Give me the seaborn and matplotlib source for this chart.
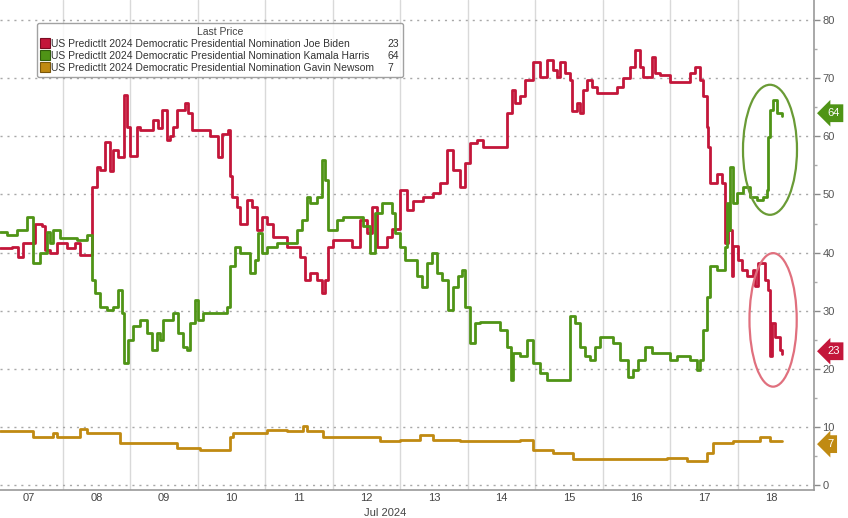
import matplotlib
matplotlib.use("Agg")
import numpy as np
import pandas as pd
import seaborn as sns
import matplotlib.pyplot as plt
import matplotlib.transforms as mtransforms
from matplotlib.patches import Ellipse
from matplotlib.lines import Line2D
from matplotlib.ticker import MultipleLocator

# ---------------- data (time in days of July 2024) ----------------
biden_t = [7.067, 7.245, 7.334, 7.408, 7.586, 7.689, 7.734, 7.808, 7.911, 8.060, 8.178, 8.252,
           8.430, 8.504, 8.549, 8.623, 8.697, 8.741, 8.815, 8.904, 8.948, 8.993, 9.097, 9.141,
           9.334, 9.408, 9.467, 9.541, 9.586, 9.630, 9.689, 9.808, 9.852, 9.911, 10.178, 10.297,
           10.356, 10.445, 10.474, 10.504, 10.578, 10.623, 10.726, 10.800, 10.874, 10.948, 11.023,
           11.111, 11.319, 11.511, 11.586, 11.659, 11.763, 11.837, 11.882, 11.926, 12.000, 12.282,
           12.400, 12.504, 12.578, 12.652, 12.800, 12.874, 12.993, 13.097, 13.186, 13.334, 13.482,
           13.586, 13.689, 13.778, 13.882, 13.956, 14.030, 14.134, 14.223, 14.474, 14.578, 14.652,
           14.697, 14.771, 14.845, 14.963, 15.067, 15.171, 15.260, 15.319, 15.363, 15.437, 15.511,
           15.541, 15.615, 15.660, 15.704, 15.763, 15.837, 15.911, 16.208, 16.297, 16.400, 16.474,
           16.548, 16.593, 16.726, 16.771, 16.845, 16.993, 17.289, 17.363, 17.437, 17.482, 17.541,
           17.556, 17.585, 17.689, 17.763, 17.808, 17.852, 17.911, 17.926, 18.000, 18.059, 18.133,
           18.222, 18.252, 18.296, 18.400, 18.445, 18.474, 18.504, 18.548, 18.622, 18.652]
biden_v = [40.7, 41.0, 39.3, 41.6, 45.0, 44.5, 40.4, 39.9, 41.6, 40.7, 41.6, 39.5,
           51.3, 54.8, 54.2, 59.1, 54.0, 57.7, 56.5, 67.1, 61.7, 56.6, 61.7, 61.1,
           62.8, 61.4, 64.5, 59.4, 60.0, 61.7, 64.5, 65.7, 64.0, 61.1, 60.0, 56.5,
           60.5, 61.1, 53.1, 49.6, 47.9, 45.0, 49.1, 47.9, 43.9, 46.2, 45.0,
           42.7, 41.0, 39.3, 35.3, 36.4, 35.3, 33.0, 35.3, 41.0, 42.2, 41.0,
           45.6, 43.3, 47.9, 41.0, 42.7, 44.0, 50.8, 47.3, 48.9, 49.6, 50.2,
           51.9, 57.7, 54.2, 51.3, 55.4, 58.8, 59.4, 58.2, 58.2, 64.0, 68.0,
           65.7, 66.9, 69.7, 72.9, 70.3, 73.1, 71.4, 70.3, 72.9, 70.9, 69.7,
           64.3, 65.7, 64.0, 68.0, 69.7, 68.6, 67.4, 68.6, 70.0, 72.0, 74.9,
           72.0, 70.3, 73.7, 70.9, 70.6, 69.4, 70.9, 72.0, 69.7, 66.9, 61.7,
           58.2, 51.9, 53.6, 51.9, 41.6, 43.9, 35.9, 41.1, 38.7, 37.0, 35.9,
           37.0, 34.2, 38.2, 35.3, 33.6, 22.1, 27.8, 25.5, 23.3, 22.5]

harris_t = [7.067, 7.171, 7.319, 7.467, 7.556, 7.660, 7.763, 7.808, 7.852, 7.956, 8.207, 8.356,
            8.430, 8.474, 8.549, 8.652, 8.741, 8.815, 8.874, 8.904, 8.963, 9.037, 9.141, 9.245,
            9.319, 9.393, 9.437, 9.482, 9.630, 9.704, 9.778, 9.837, 9.882, 9.956, 10.000, 10.074,
            10.430, 10.474, 10.548, 10.623, 10.771, 10.845, 10.889, 10.948, 11.023, 11.171, 11.467,
            11.541, 11.615, 11.659, 11.763, 11.837, 11.882, 11.926, 12.059, 12.148, 12.445, 12.548,
            12.623, 12.726, 12.874, 12.919, 12.993, 13.067, 13.245, 13.319, 13.393, 13.467, 13.541,
            13.615, 13.704, 13.778, 13.852, 13.911, 13.956, 14.030, 14.104, 14.178, 14.474, 14.578,
            14.637, 14.667, 14.771, 14.874, 14.963, 15.067, 15.171, 15.511, 15.585, 15.660, 15.734,
            15.808, 15.882, 15.956, 16.148, 16.252, 16.370, 16.445, 16.519, 16.622, 16.726, 16.993,
            17.097, 17.289, 17.393, 17.437, 17.482, 17.541, 17.585, 17.689, 17.808, 17.837, 17.852,
            17.882, 17.926, 17.985, 18.074, 18.178, 18.281, 18.370, 18.430, 18.445, 18.474, 18.519,
            18.578, 18.652]
harris_v = [43.6, 43.0, 43.9, 46.2, 38.2, 39.9, 43.6, 41.6, 43.9, 42.5, 42.2, 43.0,
            35.3, 33.0, 30.7, 30.1, 30.7, 33.6, 29.6, 20.9, 25.0, 27.3, 28.4, 26.1,
            23.2, 26.1, 25.0, 28.4, 29.6, 26.1, 23.8, 23.2, 27.8, 31.8, 28.4, 29.6,
            30.7, 37.6, 41.0, 39.9, 36.4, 38.7, 43.3, 39.9, 41.0, 41.6, 43.9,
            45.6, 49.6, 48.5, 49.6, 55.9, 52.5, 43.9, 45.6, 46.2, 44.5, 39.9,
            46.8, 48.5, 46.8, 43.3, 41.0, 38.7, 35.9, 34.1, 38.2, 39.9, 36.4,
            35.3, 30.1, 34.1, 35.9, 37.0, 30.7, 24.4, 27.8, 28.1, 26.7, 23.8,
            18.1, 22.7, 22.1, 25.0, 20.9, 19.2, 18.1, 29.0, 27.8, 23.8, 22.1,
            21.5, 23.8, 25.5, 24.4, 21.5, 18.6, 19.8, 21.5, 23.8, 22.7, 21.5,
            22.1, 21.5, 19.8, 21.5, 26.7, 32.4, 37.6, 37.0, 41.0, 48.5, 43.9,
            54.8, 48.5, 50.2, 51.3, 49.6, 49.1, 49.6, 50.8, 59.9, 64.5, 66.3,
            64.0, 63.6]

newsom_t = [7.067, 7.556, 7.852, 7.911, 8.252, 8.356, 8.845, 9.689, 10.030, 10.474, 10.519,
            11.022, 11.319, 11.556, 11.615, 11.852, 12.697, 12.993, 13.289, 13.482, 13.882,
            14.771, 14.963, 15.260, 15.556, 16.948, 17.245, 17.541, 17.630, 17.926, 18.326,
            18.474, 18.652]
newsom_v = [9.2, 8.3, 8.9, 8.3, 9.6, 8.9, 7.2, 6.3, 6.0, 8.3, 8.9,
            9.5, 9.2, 10.2, 9.2, 8.3, 7.5, 7.7, 8.6, 7.7, 7.5,
            7.7, 6.0, 5.5, 4.4, 4.6, 4.1, 5.5, 7.2, 7.5, 8.2,
            7.5, 7.5]

series_names = ["US PredictIt 2024 Democratic Presidential Nomination Joe Biden",
                "US PredictIt 2024 Democratic Presidential Nomination Kamala Harris",
                "US PredictIt 2024 Democratic Presidential Nomination Gavin Newsom"]
last_prices = [23, 64, 7]
day_numbers = [7, 8, 9, 10, 11, 12, 13, 14, 15, 16, 17, 18]
day_labels = ["07", "08", "09", "10", "11", "12", "13", "14", "15", "16", "17", "18"]
y_ticks = [0, 10, 20, 30, 40, 50, 60, 70, 80]

# ---------------- style ----------------
sns.set_theme(style="white")
plt.rcParams["font.family"] = ["Liberation Sans", "DejaVu Sans"]

colors = ["#c3163a", "#4f9416", "#c08a12"]
edge_colors = ["#7a0c22", "#2f5c0c", "#7a560a"]

fig = plt.figure(figsize=(8.48, 5.18), dpi=100)
ax = fig.add_axes([0, 28 / 518, 814 / 848, 490 / 518])

for t, v, c in [(biden_t, biden_v, colors[0]),
                (harris_t, harris_v, colors[1]),
                (newsom_t, newsom_v, colors[2])]:
    sns.lineplot(x=t, y=v, ax=ax, color=c, lw=2.0, drawstyle="steps-post",
                 estimator=None, sort=False)

ax.set_xlim(7.067, 19.126)
ax.set_ylim(-0.9, 83.5)

# x axis: labels at day centres, grid at day boundaries
ax.set_xticks([d + 0.5 for d in day_numbers])
ax.set_xticklabels(day_labels)
ax.set_xticks([d for d in day_numbers[1:]], minor=True)
ax.grid(axis="x", which="minor", color="#d9d9d9", lw=1.0, ls="-")
ax.grid(axis="x", which="major", visible=False)
ax.tick_params(axis="x", which="both", length=0, pad=2, labelsize=8, labelcolor="#444444")

# y axis on the right
ax.yaxis.tick_right()
ax.set_yticks(y_ticks)
ax.yaxis.set_minor_locator(MultipleLocator(5))
ax.grid(axis="y", which="major", color="#a8a8a8", lw=1.0, ls=(0, (1.5, 3.5)))
ax.tick_params(axis="y", which="major", length=4, width=1, color="#8a8a8a", direction="out",
               labelsize=8, labelcolor="#555555", pad=2)
ax.tick_params(axis="y", which="minor", length=2, width=1, color="#aaaaaa", direction="out")
ax.set_xlabel("")
ax.set_ylabel("")

for s in ["left", "top"]:
    ax.spines[s].set_visible(False)
for s in ["right", "bottom"]:
    ax.spines[s].set_color("#9a9a9a")
    ax.spines[s].set_linewidth(1.2)

# circled annotations
ax.add_patch(Ellipse((18.474, 57.7), 0.80, 22.4, fill=False, ec="#6a9b36", lw=1.6, zorder=5))
ax.add_patch(Ellipse((18.52, 28.4), 0.70, 23.0, fill=False, ec="#e0707e", lw=1.6, zorder=5))

# last-price tags on the right axis
trans = mtransforms.blended_transform_factory(ax.transAxes, ax.transData)
for val, c in zip(last_prices, colors):
    ax.text(1.016, val, f"{val}", transform=trans, ha="left", va="center", fontsize=8,
            color="white", clip_on=False, zorder=10,
            bbox=dict(boxstyle="larrow,pad=0.35", fc=c, ec="none"))

# legend
handles = [Line2D([], [], marker="s", ls="none", markersize=7, markerfacecolor=c,
                  markeredgecolor=e, markeredgewidth=0.8) for c, e in zip(colors, edge_colors)]
handles += [Line2D([], [], ls="none") for _ in range(3)]
labels = series_names + [str(p) for p in last_prices]
leg = ax.legend(handles, labels, ncol=2, title="Last Price", loc="upper left",
                bbox_to_anchor=(32 / 814, 1 - 18 / 490), fontsize=7.5, title_fontsize=7.5,
                frameon=True, fancybox=True, handlelength=0.7, handletextpad=0.3,
                columnspacing=0.3, labelspacing=0.2, borderpad=0.35)
leg.get_frame().set_edgecolor("#8a8a8a")
leg.get_frame().set_linewidth(1.0)
for txt in leg.get_texts():
    txt.set_color("#333333")
leg.get_title().set_color("#444444")

fig.text(385 / 848, 1 - 513 / 518, "Jul 2024", ha="center", va="center", fontsize=8,
         color="#444444")

fig.savefig("out.png", dpi=100, facecolor="white")
